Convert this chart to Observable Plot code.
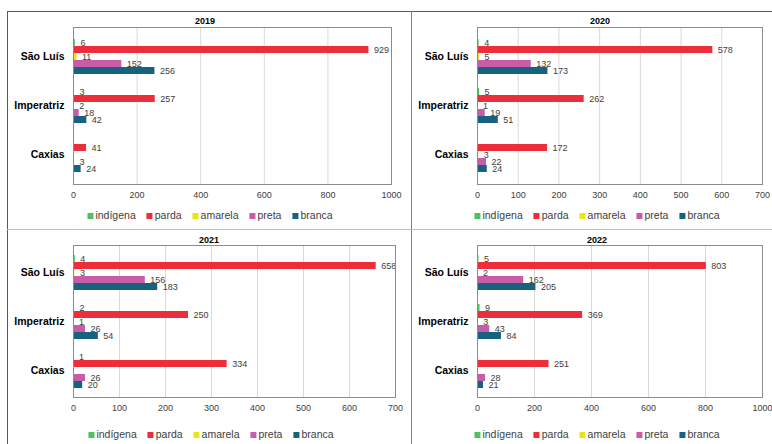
<!DOCTYPE html>
<html><head><meta charset="utf-8">
<script src="https://cdn.jsdelivr.net/npm/d3@7"></script>
<script src="https://cdn.jsdelivr.net/npm/@observablehq/plot@0.6"></script>
<style>
body{margin:0;background:#fff;font-family:"Liberation Sans",Arial,sans-serif;}
#root{position:relative;width:772px;height:444px;overflow:hidden;}
.abs{position:absolute;}
.title{position:absolute;font-weight:bold;font-size:9px;color:#000;transform:translate(-50%,-50%);white-space:nowrap;}
.legend{position:absolute;display:flex;gap:11px;font-size:10.5px;color:#404040;transform:translate(-50%,-50%);white-space:nowrap;align-items:center;}
.legend span.sw{display:inline-block;width:6px;height:6px;margin-right:2px;vertical-align:middle;}
.line{position:absolute;}
</style></head>
<body><div id="root"></div>
<script>
const cities = ["São Luís", "Imperatriz", "Caxias"];
const races = ["indígena", "parda", "amarela", "preta", "branca"];
const raceColors = ["#52c060", "#ee2d3a", "#e6e619", "#c95ca8", "#17637f"];
const years = ["2019", "2020", "2021", "2022"];
// values per city: [indígena, parda, amarela, preta, branca]
const values2019 = [[6, 929, 11, 152, 256], [3, 257, 2, 18, 42], [null, 41, null, 3, 24]];
const values2020 = [[4, 578, 5, 132, 173], [5, 262, 1, 19, 51], [null, 172, 3, 22, 24]];
const values2021 = [[4, 658, 3, 156, 183], [2, 250, 1, 26, 54], [1, 334, null, 26, 20]];
const values2022 = [[5, 803, 2, 162, 205], [9, 369, 3, 43, 84], [null, 251, null, 28, 21]];
const ticks2019 = [0, 200, 400, 600, 800, 1000];
const ticks2020 = [0, 100, 200, 300, 400, 500, 600, 700];
const ticks2021 = [0, 100, 200, 300, 400, 500, 600, 700];
const ticks2022 = [0, 200, 400, 600, 800, 1000];

const allValues = [values2019, values2020, values2021, values2022];
const allTicks = [ticks2019, ticks2020, ticks2021, ticks2022];

// band domain with spacer slots between city groups
const yKeys = [];
yKeys.push("_s0");
cities.forEach((c, i) => {
  races.forEach(r => yKeys.push(c + "|" + r));
  if (i < cities.length - 1) { yKeys.push("_s" + i + "a"); yKeys.push("_s" + i + "b"); }
});
yKeys.push("_send");

const layout = [
  {left: 8, top: 12, width: 402, height: 196, ml: 65, mr: 19, mt: 15, mb: 24, tx: 205, ty: 21, lx: 210, ly: 215},
  {left: 412, top: 12, width: 360, height: 196, ml: 65, mr: 10, mt: 15, mb: 24, tx: 600, ty: 21, lx: 597, ly: 215},
  {left: 8, top: 231, width: 402, height: 190, ml: 65, mr: 15, mt: 14, mb: 24, tx: 209, ty: 240, lx: 211, ly: 434},
  {left: 412, top: 231, width: 360, height: 190, ml: 65, mr: 10, mt: 14, mb: 24, tx: 597, ty: 240, lx: 597, ly: 434}
];

const root = document.getElementById("root");
function addLine(x, y, w, h, color) {
  const d = document.createElement("div");
  d.className = "line";
  Object.assign(d.style, {left: x + "px", top: y + "px", width: w + "px", height: h + "px", background: color});
  root.appendChild(d);
}
addLine(7, 11, 765, 1, "#595959");
addLine(7, 11, 1, 433, "#595959");
addLine(411, 11, 1, 433, "#808080");
addLine(7, 229, 765, 1, "#bfbfbf");

years.forEach((year, k) => {
  const L = layout[k];
  const vals = allValues[k];
  const ticks = allTicks[k];
  const rows = [];
  cities.forEach((c, i) => races.forEach((r, j) => {
    const v = vals[i][j];
    if (v != null) rows.push({city: c, race: r, key: c + "|" + r, value: v});
  }));
  const chart = Plot.plot({
    width: L.width, height: L.height,
    marginLeft: L.ml, marginRight: L.mr, marginTop: L.mt, marginBottom: L.mb,
    style: {fontFamily: '"Liberation Sans", Arial, sans-serif', fontSize: "9px", color: "#404040", background: "transparent", overflow: "visible"},
    x: {domain: [0, ticks[ticks.length - 1]], ticks: ticks, tickSize: 0, tickPadding: 7, label: null, tickFormat: d => String(d)},
    y: {domain: yKeys, axis: null, padding: 0},
    color: {domain: races, range: raceColors},
    marks: [
      Plot.ruleX(ticks, {stroke: "#d9d9d9", strokeWidth: 1}),
      Plot.barX(rows, {x: "value", y: "key", fill: "race", inset: 0}),
      Plot.text(rows, {x: "value", y: "key", text: d => String(d.value), textAnchor: "start", dx: 5, fill: "#404040", fontSize: 9}),
      Plot.text(cities, {y: d => d + "|amarela", text: d => d, frameAnchor: "left", textAnchor: "end", dx: -9, fontWeight: "bold", fontSize: 10.5, fill: "#000"}),
      Plot.frame({stroke: "#8c8c8c"})
    ]
  });
  chart.style.position = "absolute";
  chart.style.left = L.left + "px";
  chart.style.top = L.top + "px";
  root.appendChild(chart);

  const t = document.createElement("div");
  t.className = "title";
  t.textContent = year;
  t.style.left = L.tx + "px";
  t.style.top = L.ty + "px";
  root.appendChild(t);

  const lg = document.createElement("div");
  lg.className = "legend";
  lg.style.left = L.lx + "px";
  lg.style.top = L.ly + "px";
  races.forEach((r, j) => {
    const it = document.createElement("div");
    const sw = document.createElement("span");
    sw.className = "sw";
    sw.style.background = raceColors[j];
    it.appendChild(sw);
    it.appendChild(document.createTextNode(r));
    lg.appendChild(it);
  });
  root.appendChild(lg);
});
</script>
</body></html>
